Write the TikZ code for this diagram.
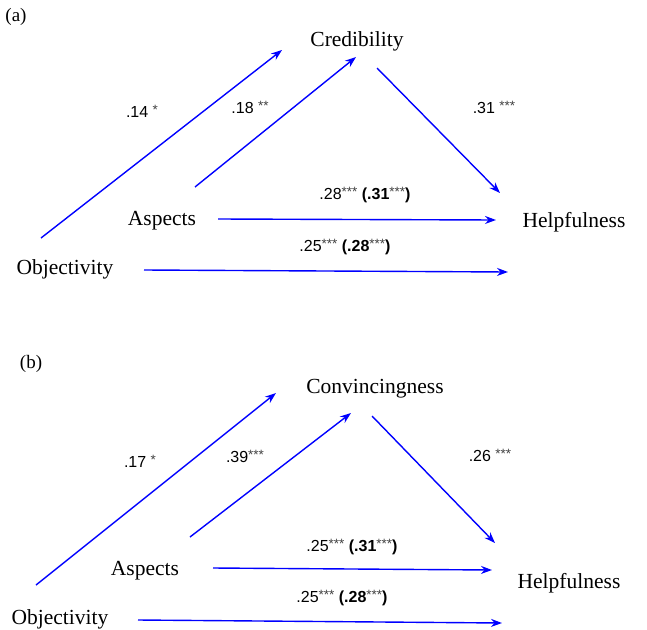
\documentclass[tikz,border=0pt]{standalone}
\usepackage{fontspec}
\setmainfont{Liberation Serif}
\newfontfamily\labfont{Liberation Sans}
\usetikzlibrary{arrows.meta}
\newcommand\stars[1]{\raisebox{3pt}{\fontsize{13.5}{13.5}\selectfont\mdseries\color{black!75}#1}}
\tikzset{
  var/.style={font=\fontsize{21.5}{21.5}\selectfont, inner sep=0pt, anchor=center},
  tag/.style={font=\fontsize{19}{19}\selectfont, inner sep=0pt, anchor=center},
  coef/.style={font=\labfont\fontsize{16}{16}\selectfont, inner sep=0pt, anchor=center},
  link/.style={draw=blue, line width=1.4pt, -{Stealth[length=11pt,width=8pt]}},
}
\begin{document}
\begin{tikzpicture}[x=1pt,y=-1pt]
\useasboundingbox (0,0) rectangle (647,629);
% ---------- (a) ----------
\node[tag] (ta) at (16,17) {(a)};
\node[var] (cred) at (357,41) {Credibility};
\node[var] (aspA) at (162,221) {Aspects};
\node[var] (objA) at (65,269) {Objectivity};
\node[var] (helpA) at (574,222) {Helpfulness};
\coordinate (a1s) at (41,238); \coordinate (a1e) at (282,50);
\coordinate (a2s) at (195,187); \coordinate (a2e) at (356,57);
\coordinate (a3s) at (377,68); \coordinate (a3e) at (500,193);
\coordinate (a4s) at (218,219); \coordinate (a4e) at (496,220);
\coordinate (a5s) at (144,270); \coordinate (a5e) at (508,272);
\draw[link] (a1s) -- (a1e);
\draw[link] (a2s) -- (a2e);
\draw[link] (a3s) -- (a3e);
\draw[link] (a4s) -- (a4e);
\draw[link] (a5s) -- (a5e);
\node[coef] (la1) at (142,111) {.14 \stars{*}};
\node[coef] (la2) at (250,107) {.18 \stars{**}};
\node[coef] (la3) at (494,107) {.31 \stars{***}};
\node[coef] (la4) at (365,195) {.28\stars{***} \textbf{(.31\stars{***})}};
\node[coef] (la5) at (345,247) {.25\stars{***} \textbf{(.28\stars{***})}};
% ---------- (b) ----------
\node[tag] (tb) at (31,364) {(b)};
\node[var] (conv) at (375,389) {Convincingness};
\node[var] (aspB) at (145,571) {Aspects};
\node[var] (objB) at (60,619) {Objectivity};
\node[var] (helpB) at (569,583) {Helpfulness};
\coordinate (b1s) at (36,585); \coordinate (b1e) at (276,393);
\coordinate (b2s) at (190,537); \coordinate (b2e) at (351,413);
\coordinate (b3s) at (372,416); \coordinate (b3e) at (495,543);
\coordinate (b4s) at (213,568); \coordinate (b4e) at (492,570);
\coordinate (b5s) at (138,620); \coordinate (b5e) at (502,623);
\draw[link] (b1s) -- (b1e);
\draw[link] (b2s) -- (b2e);
\draw[link] (b3s) -- (b3e);
\draw[link] (b4s) -- (b4e);
\draw[link] (b5s) -- (b5e);
\node[coef] (lb1) at (140,461) {.17 \stars{*}};
\node[coef] (lb2) at (245,456) {.39\stars{***}};
\node[coef] (lb3) at (490,455) {.26 \stars{***}};
\node[coef] (lb4) at (352,547) {.25\stars{***} \textbf{(.31\stars{***})}};
\node[coef] (lb5) at (342,598) {.25\stars{***} \textbf{(.28\stars{***})}};
\end{tikzpicture}
\end{document}
